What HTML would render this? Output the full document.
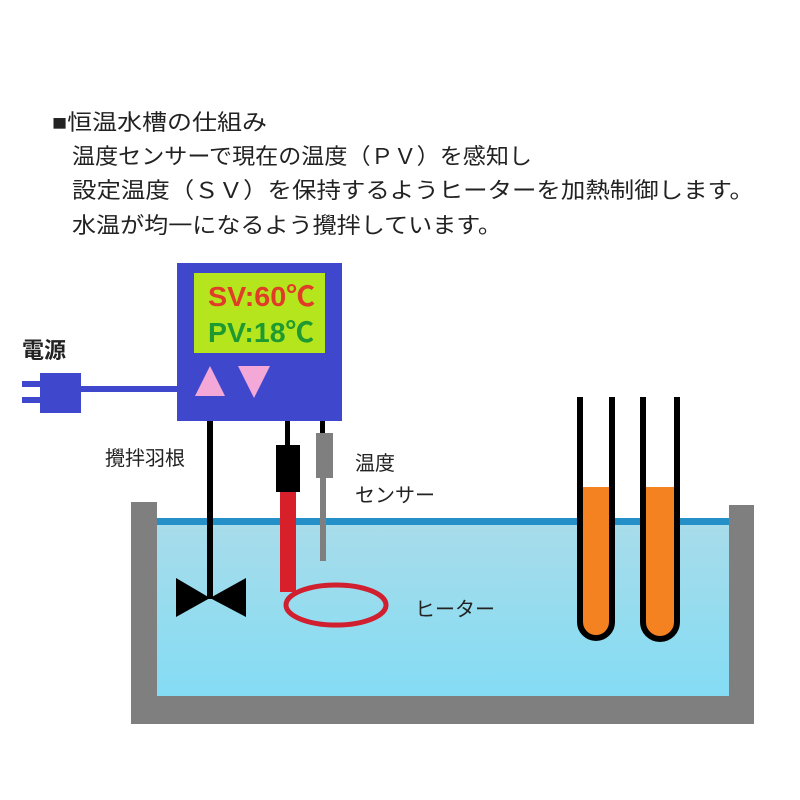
<!DOCTYPE html>
<html><head><meta charset="utf-8"><style>
html,body{margin:0;padding:0;background:#fff;}
svg{display:block;}
text{font-family:"Liberation Sans","Noto Sans CJK JP",sans-serif;}
</style></head><body>
<svg width="800" height="800" viewBox="0 0 800 800" xmlns="http://www.w3.org/2000/svg">
<defs>
<linearGradient id="w" x1="0" y1="0" x2="0" y2="1">
<stop offset="0" stop-color="#a8dcea"/><stop offset="1" stop-color="#84dcf4"/>
</linearGradient>
</defs>
<g font-size="22" fill="#222">
<text x="52" y="130" textLength="215" lengthAdjust="spacingAndGlyphs">■恒温水槽の仕組み</text>
<text x="72" y="164" textLength="460" lengthAdjust="spacingAndGlyphs">温度センサーで現在の温度（ＰＶ）を感知し</text>
<text x="72" y="198" textLength="682" lengthAdjust="spacingAndGlyphs">設定温度（ＳＶ）を保持するようヒーターを加熱制御します。</text>
<text x="72" y="233" textLength="430" lengthAdjust="spacingAndGlyphs">水温が均一になるよう攪拌しています。</text>
</g>
<rect x="157" y="522" width="572" height="174" fill="url(#w)"/>
<rect x="157" y="518" width="572" height="7" fill="#2590c8"/>
<path d="M131 502 H157 V696 H729 V505 H754 V724 H131 Z" fill="#7f7f7f"/>
<rect x="22" y="381" width="20" height="6" fill="#3f48cc"/>
<rect x="22" y="397" width="20" height="6" fill="#3f48cc"/>
<rect x="40" y="373" width="41" height="40" fill="#3f48cc"/>
<rect x="80" y="386" width="100" height="6" fill="#3f48cc"/>
<text x="22" y="358" font-size="22" font-weight="bold" fill="#222">電源</text>
<rect x="177" y="263" width="165" height="158" fill="#3f48cc"/>
<rect x="194" y="273" width="131" height="80" fill="#b5e61d"/>
<text x="208" y="306" font-size="28" font-weight="bold" fill="#e03c28" textLength="107" lengthAdjust="spacingAndGlyphs">SV:60℃</text>
<text x="208" y="342" font-size="28" font-weight="bold" fill="#1e9a30" textLength="106" lengthAdjust="spacingAndGlyphs">PV:18℃</text>
<polygon points="210,366 195,396 225,396" fill="#f4a8d8"/>
<polygon points="238,366 270,366 254,398" fill="#f4a8d8"/>
<rect x="207" y="421" width="6" height="178" fill="#000"/>
<polygon points="176,578 210,598 246,578 246,617 210,598 176,617" fill="#000"/>
<text x="105" y="465" font-size="20" fill="#222">攪拌羽根</text>
<rect x="285" y="421" width="5" height="26" fill="#000"/>
<rect x="276" y="445" width="24" height="47" fill="#000"/>
<rect x="280" y="492" width="16" height="100" fill="#d8202a"/>
<ellipse cx="336" cy="605" rx="50" ry="20" fill="none" stroke="#d02030" stroke-width="5"/>
<text x="415" y="616" font-size="20" fill="#222">ヒーター</text>
<rect x="320" y="421" width="5" height="14" fill="#000"/>
<rect x="316" y="433" width="17" height="45" fill="#7f7f7f"/>
<rect x="320" y="478" width="6" height="83" fill="#7f7f7f"/>
<text x="355" y="470" font-size="20" fill="#222">温度</text>
<text x="355" y="502" font-size="20" fill="#222">センサー</text>
<path d="M580 487 H612 V622 A16 16 0 0 1 580 622 Z" fill="#f58220"/>
<path d="M580 397 V622 A16 16 0 0 0 612 622 V397" fill="none" stroke="#000" stroke-width="6"/>
<path d="M643 487 H677 V622 A17 17 0 0 1 643 622 Z" fill="#f58220"/>
<path d="M643 397 V622 A17 17 0 0 0 677 622 V397" fill="none" stroke="#000" stroke-width="6"/>
</svg>
</body></html>
